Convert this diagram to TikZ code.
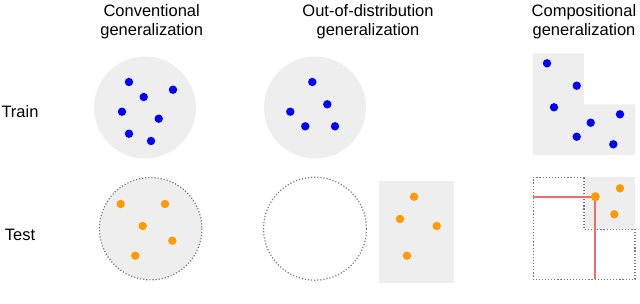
\documentclass[tikz,border=0pt]{standalone}
\usepackage{fontspec}
\setmainfont{Liberation Sans}
\definecolor{regiongray}{HTML}{EEEEEE}
\definecolor{dotgray}{HTML}{7A7A7A}
\definecolor{dotblue}{HTML}{0000FF}
\definecolor{dotorange}{HTML}{FF9A00}
\definecolor{redl}{HTML}{F26B6B}
\begin{document}
\begin{tikzpicture}[x=1pt,y=-1pt,
  region/.style={fill=regiongray},
  dotline/.style={draw=dotgray, line width=1.2pt, dash pattern=on 1.2pt off 1.9pt},
  bdot/.style={fill=dotblue},
  odot/.style={fill=dotorange},
  title/.style={align=center, font=\fontsize{16.5}{18.5}\selectfont, anchor=north, inner sep=0pt},
  rowlabel/.style={font=\fontsize{16.5}{18.5}\selectfont, anchor=base, inner sep=0pt},
  redline/.style={draw=redl, line width=1.8pt}
]
\useasboundingbox (0,0) rectangle (640,303);

% titles
\node[title] (t1) at (151.7,4.5) {Conventional\\generalization};
\node[title] (t2) at (368,4.5) {Out-of-distribution\\generalization};
\node[title] (t3) at (584,4.5) {Compositional\\generalization};

% row labels
\node[rowlabel] (train) at (20,117) {Train};
\node[rowlabel] (test) at (20,240) {Test};

% ---- Train row ----
% conventional
\fill[region] (145,107.5) circle (51);
\foreach \p in {(129,82),(143.7,97),(173,89.7),(122,111.7),(158.7,118.7),(129,133.7),(151,141)}
  \fill[bdot] \p circle (4.2);
% OOD
\fill[region] (315,107.5) circle (51);
\foreach \p in {(312.3,82),(327.3,104.3),(290.3,111.7),(305.3,126.3),(335,126.3)}
  \fill[bdot] \p circle (4.2);
% compositional
\fill[region] (532.7,53.3) -- (584,53.3) -- (584,104.3) -- (635,104.3) -- (635,155) -- (532.7,155) -- cycle;
\foreach \p in {(547,63.3),(576.7,85.7),(554,107.3),(620,114.3),(590.7,122.7),(576.7,136.7),(613.3,144.3)}
  \fill[bdot] \p circle (4.2);

% ---- Test row ----
% conventional
\fill[region] (150.7,228.7) circle (51.2);
\draw[dotline] (150.7,228.7) circle (51.2);
\foreach \p in {(120.7,204),(165,204),(142.7,226),(172.3,240.7),(135.3,255.7)}
  \fill[odot] \p circle (4.2);
% OOD
\draw[dotline] (315,228.7) circle (51.5);
\fill[region] (379,181) rectangle (454.3,282.7);
\foreach \p in {(414,196.7),(400,219),(436.7,226),(407,255.7)}
  \fill[odot] \p circle (4.2);
% compositional
\fill[region] (584,177.3) rectangle (635,229.3);
\draw[dotline] (584,177.3) -- (533.3,177.3) -- (533.3,279.3) -- (635,279.3) -- (635,229.3) -- (584,229.3) -- cycle;
\coordinate (hit) at (595.3,196.7);
\coordinate (hleft) at (533.3,196.7);
\coordinate (vbot) at (595.3,279.3);
\draw[redline] (hleft) -- (hit) -- (vbot);
\fill[odot] (hit) circle (4.5);
\foreach \p in {(620,188.3),(614.3,214.3)}
  \fill[odot] \p circle (4.2);
\end{tikzpicture}
\end{document}
